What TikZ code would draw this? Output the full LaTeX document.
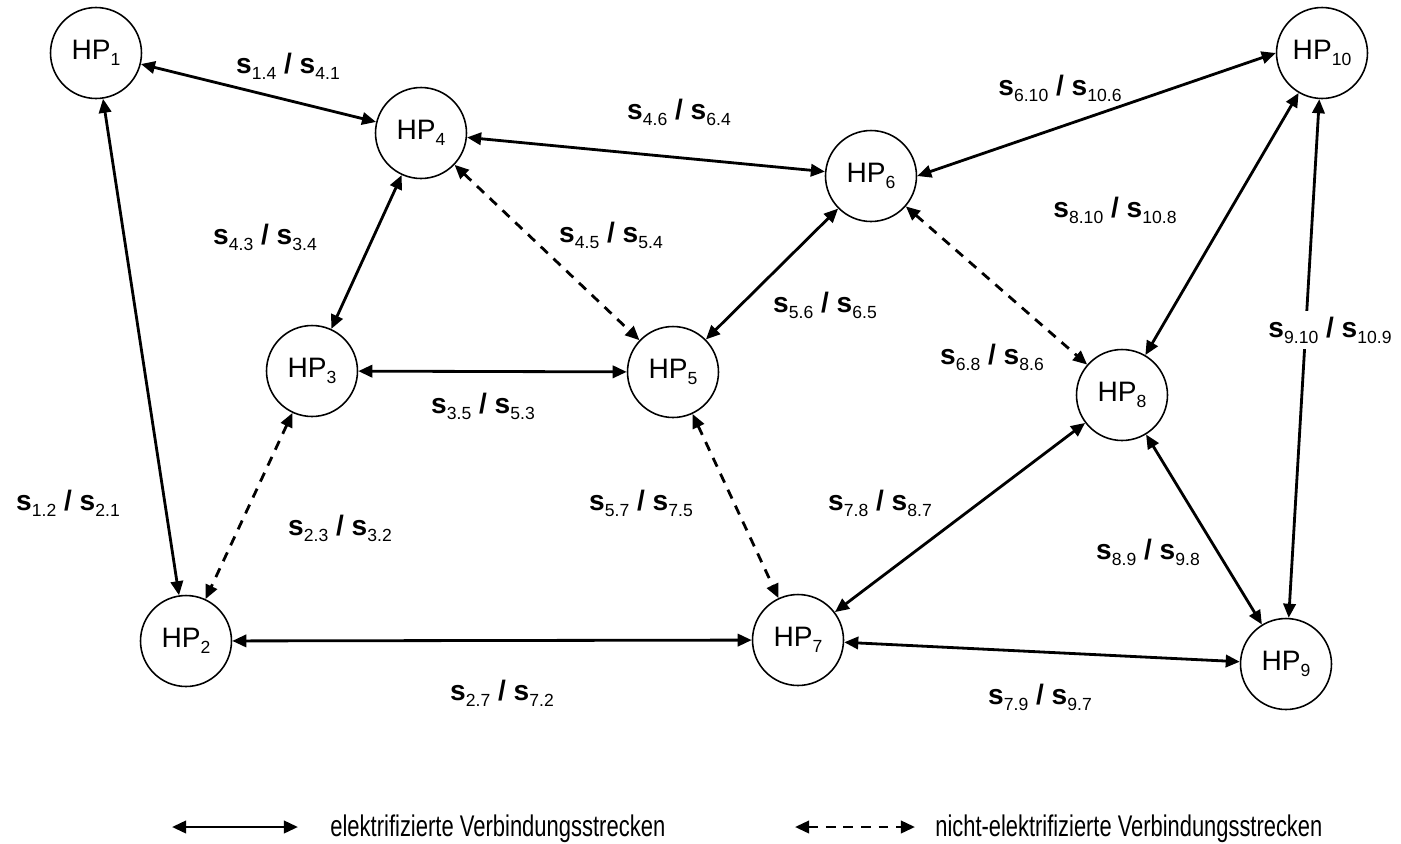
\documentclass[tikz,border=0pt]{standalone}
\usepackage{fontspec}
\setmainfont{Liberation Sans}
\usepackage{graphicx}
\usetikzlibrary{arrows.meta}
\tikzset{
every picture/.style={>={Triangle[length=8pt,width=7pt]}},
%%%%%%%%%%  Node styles
hpnode/.style={circle,draw,line width=0.9pt,minimum size=1.82cm,inner sep=0pt,
               font=\fontsize{16}{18}\selectfont},
strecke/.style={inner sep=0pt,font=\fontsize{16}{18}\selectfont},
cutstrecke/.style={strecke,fill=white,inner sep=3pt},
legendtext/.style={anchor=west,inner sep=0pt,font=\fontsize{17}{19}\selectfont},
%%%% different line styles:
elec/.style={<->,line width=1.6pt},
nonelec/.style={<->,line width=1.6pt,dash pattern=on 5.5pt off 4.5pt}
}
\newcommand{\idx}[1]{\raisebox{-3.5pt}{\fontsize{10}{10}\selectfont #1}}
\newcommand{\hp}[1]{HP\idx{#1}}
\newcommand{\sab}[2]{\textbf{s}\idx{#1} \textbf{/} \textbf{s}\idx{#2}}

\begin{document}
\begin{tikzpicture}[x=0.02cm,y=-0.02cm]
\useasboundingbox (0,0) rectangle (1401,843);
%%%% Hubs
\node[hpnode] (hp1) at (96,53) {\hp{1}};
\node[hpnode] (hp2) at (186,641) {\hp{2}};
\node[hpnode] (hp3) at (312,371) {\hp{3}};
\node[hpnode] (hp4) at (421,133) {\hp{4}};
\node[hpnode] (hp5) at (673,372) {\hp{5}};
\node[hpnode] (hp6) at (871,176) {\hp{6}};
\node[hpnode] (hp7) at (798,640) {\hp{7}};
\node[hpnode] (hp8) at (1122,395) {\hp{8}};
\node[hpnode] (hp9) at (1286,664) {\hp{9}};
\node[hpnode] (hp10) at (1322,53) {\hp{10}};
%%%% electrified
\draw[elec] (hp1) -- (hp4);
\draw[elec] (hp1) -- (hp2);
\draw[elec] (hp4) -- (hp6);
\draw[elec] (hp6.east) -- (hp10.west);
\draw[elec] (hp4) -- (hp3);
\draw[elec] (hp3) -- (hp5);
\draw[elec] (hp5) -- (hp6);
\draw[elec] (hp10) -- (hp8);
\draw[elec] (hp10) -- (hp9);
\draw[elec] (hp2) -- (hp7);
\draw[elec] (hp7) -- (hp8);
\draw[elec] (hp8) -- (hp9);
\draw[elec] (hp7) -- (hp9);
%%%% not electrified
\draw[nonelec] (hp4) -- (hp5);
\draw[nonelec] (hp6) -- (hp8);
\draw[nonelec] (hp3) -- (hp2);
\draw[nonelec] (hp5) -- (hp7);
%%%% edge labels
\node[strecke] (l14) at (288,66) {\sab{1.4}{4.1}};
\node[strecke] (l46) at (679,112) {\sab{4.6}{6.4}};
\node[strecke] (l610) at (1060,88) {\sab{6.10}{10.6}};
\node[strecke] (l43) at (265,237) {\sab{4.3}{3.4}};
\node[strecke] (l45) at (611,235) {\sab{4.5}{5.4}};
\node[strecke] (l810) at (1115,210) {\sab{8.10}{10.8}};
\node[strecke] (l56) at (825,305) {\sab{5.6}{6.5}};
\node[cutstrecke] (l910) at (1330,330) {\sab{9.10}{10.9}};
\node[strecke] (l68) at (992,357) {\sab{6.8}{8.6}};
\node[strecke] (l35) at (483,406) {\sab{3.5}{5.3}};
\node[strecke] (l12) at (68,503) {\sab{1.2}{2.1}};
\node[strecke] (l23) at (340,528) {\sab{2.3}{3.2}};
\node[strecke] (l57) at (641,503) {\sab{5.7}{7.5}};
\node[strecke] (l78) at (880,503) {\sab{7.8}{8.7}};
\node[strecke] (l89) at (1148,552) {\sab{8.9}{9.8}};
\node[strecke] (l27) at (502,693) {\sab{2.7}{7.2}};
\node[strecke] (l79) at (1040,697) {\sab{7.9}{9.7}};
%%%% legend
\coordinate (e1) at (172,827);
\coordinate (e2) at (298,827);
\coordinate (n1) at (795,827);
\coordinate (n2) at (915,827);
\draw[elec] (e1) -- (e2);
\draw[nonelec] (n1) -- (n2);
\node[legendtext] (leg1) at (330,829) {\resizebox{6.7cm}{\height}{elektrifizierte Verbindungsstrecken}};
\node[legendtext] (leg2) at (935,829) {\resizebox{7.74cm}{\height}{nicht-elektrifizierte Verbindungsstrecken}};
\end{tikzpicture}
\end{document}
